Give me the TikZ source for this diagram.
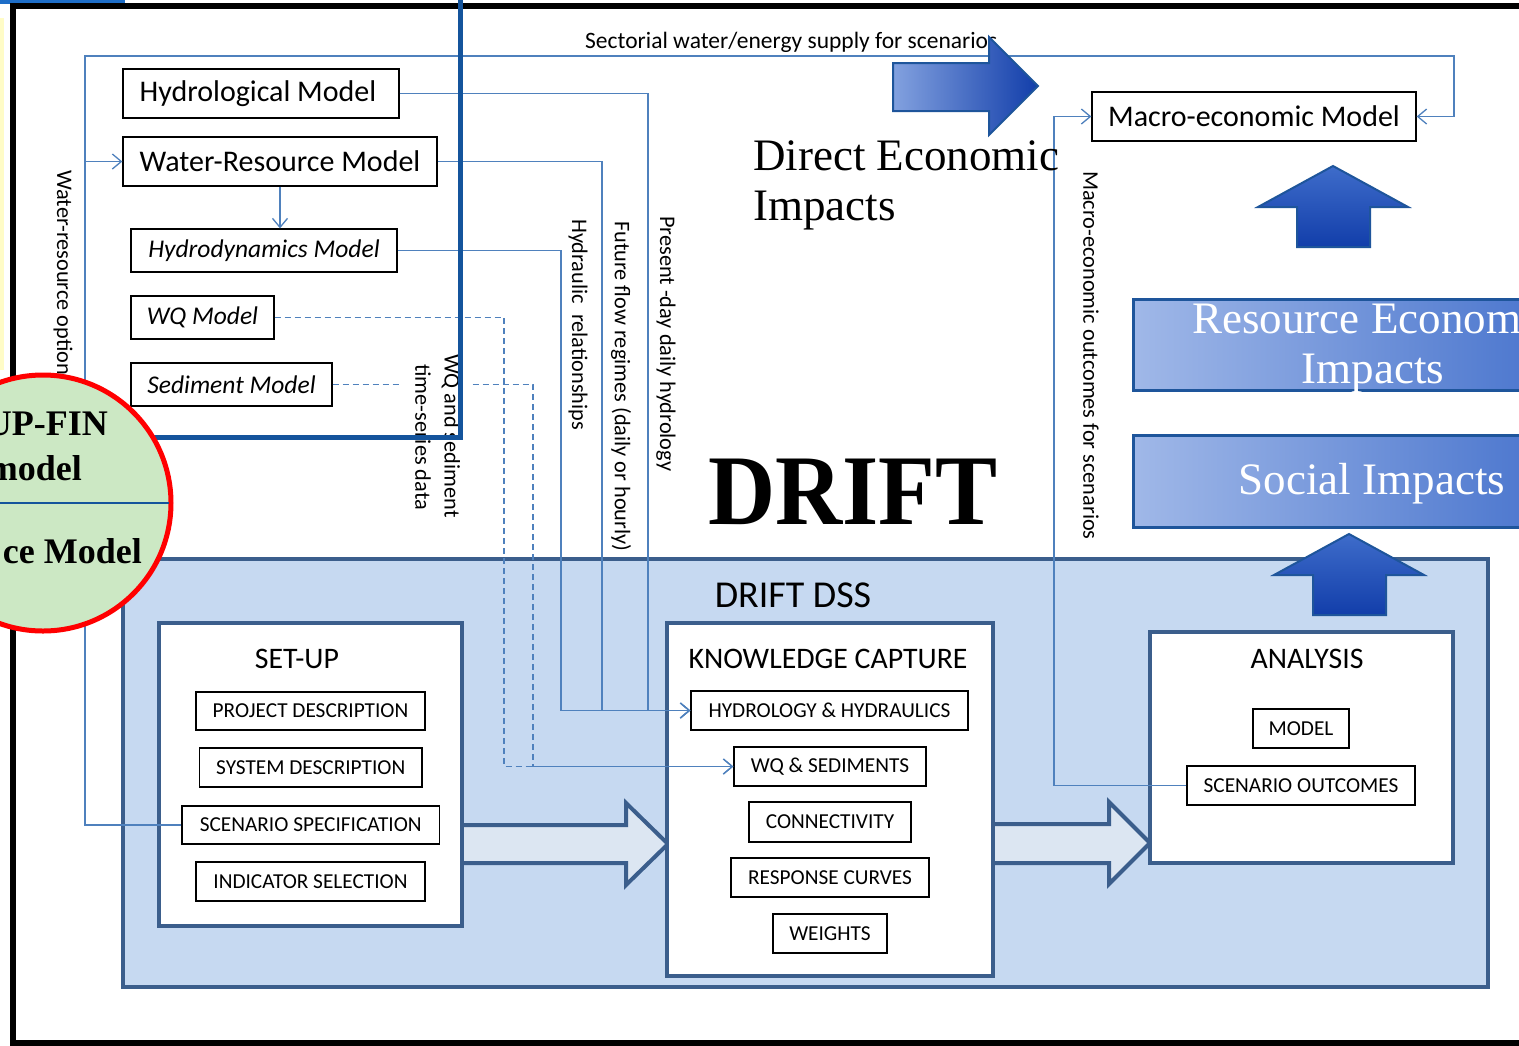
\documentclass[tikz,border=0pt]{standalone}
\usepackage{fontspec}
\setmainfont{Carlito}
\newfontfamily\dserif{Liberation Serif}
\usetikzlibrary{arrows.meta,calc}
\definecolor{lnk}{RGB}{79,129,189}
\definecolor{dssfill}{RGB}{198,217,241}
\definecolor{dssdraw}{RGB}{59,94,140}
\definecolor{blkfill}{RGB}{220,230,242}
\definecolor{frameblue}{RGB}{20,84,156}
\definecolor{circfill}{RGB}{204,232,196}
\definecolor{gradA}{RGB}{160,184,232}
\definecolor{gradB}{RGB}{18,62,170}
\definecolor{gradC}{RGB}{62,108,202}
\definecolor{arrdraw}{RGB}{30,85,155}
\definecolor{topbar}{RGB}{30,110,200}
\tikzset{
  mbox/.style={draw=black, line width=1.3pt, fill=white, inner sep=0pt, font=\fontsize{30}{34}\selectfont},
  ibox/.style={mbox, font=\fontsize{25.5}{29}\selectfont\itshape},
  sbox/.style={draw=black, line width=1.3pt, fill=white, inner sep=0pt, font=\fontsize{21.3}{25}\selectfont},
  cont/.style={draw=dssdraw, line width=4pt, fill=white, inner sep=0pt},
  ttl/.style={inner sep=0pt, font=\fontsize{29.8}{34}\selectfont},
  link/.style={draw=lnk, line width=1.3pt},
  lnkarrow/.style={-{Straight Barb[length=9pt,width=15pt]}},
  dlink/.style={link, dash pattern=on 6pt off 4pt},
  vlab/.style={rotate=-90, anchor=west, inner sep=0pt, font=\fontsize{22.3}{26}\selectfont},
  blockarrow/.style={fill=blkfill, draw=dssdraw, line width=4pt, line join=miter},
  garrow/.style={draw=arrdraw, line width=2pt, line join=miter},
  impact/.style={draw=arrdraw, line width=3pt, inner sep=0pt, left color=gradA, middle color=gradB, right color=gradC},
  whitetxt/.style={text=white, inner sep=0pt, font=\dserif\fontsize{45}{50}\selectfont, anchor=base},
  circtxt/.style={inner sep=0pt, anchor=base east, font=\dserif\bfseries\fontsize{36}{40}\selectfont}
}
\begin{document}
\begin{tikzpicture}[x=1pt,y=-1pt]
\useasboundingbox (0,0) rectangle (1519,1045);
\clip (0,0) rectangle (1519,1045);
\fill[white] (0,0) rectangle (1519,1045);
% page decorations
\fill[yellow!22] (0,18) rectangle (4,370);
\fill[topbar] (0,0) rectangle (125,3.5);
\draw[topbar, line width=2.5pt] (57,0) .. controls (60,8) and (73,8) .. (76,0);
\draw[black, line width=6pt] (1530,6) -- (13,6) -- (13,1042.5) -- (1530,1042.5);

% DSS container
\node[draw=dssdraw, fill=dssfill, line width=4pt, minimum width=1365, minimum height=428, inner sep=0pt] (dss) at (805.5,773) {};
\node[inner sep=0pt, font=\fontsize{38}{42}\selectfont] (dsslab) at (793,595) {DRIFT DSS};

% block arrows
\filldraw[blockarrow] (462,825) -- (626,825) -- (626,803) -- (668,844) -- (626,885) -- (626,863) -- (462,863);
\filldraw[blockarrow] (993,824) -- (1109,824) -- (1109,802) -- (1150,843) -- (1109,884) -- (1109,863) -- (993,863);

% containers
\node[cont, minimum width=303, minimum height=303] (setup) at (310.5,774.5) {};
\node[cont, minimum width=326, minimum height=353] (kc) at (830,799.5) {};
\node[cont, minimum width=303, minimum height=231] (ana) at (1301.5,747.5) {};
\node[ttl] (setupt) at (297,659) {SET-UP};
\node[ttl] (kct) at (828,659) {KNOWLEDGE CAPTURE};
\node[ttl] (anat) at (1307,659) {ANALYSIS};

% set-up items
\node[sbox, minimum width=229, minimum height=38] (proj) at (310.5,711) {PROJECT DESCRIPTION};
\node[sbox, minimum width=222.5, minimum height=39] (sys) at (310.75,767.5) {SYSTEM DESCRIPTION};
\node[sbox, minimum width=257.5, minimum height=38] (scen) at (310.75,825) {SCENARIO SPECIFICATION};
\node[sbox, minimum width=229, minimum height=39] (ind) at (310.5,881.5) {INDICATOR SELECTION};
% knowledge capture items
\node[sbox, minimum width=277, minimum height=39] (hh) at (829.5,710.5) {HYDROLOGY \& HYDRAULICS};
\node[sbox, minimum width=192, minimum height=39] (wqs) at (830,766.5) {WQ \& SEDIMENTS};
\node[sbox, minimum width=162, minimum height=40] (conn) at (830,822) {CONNECTIVITY};
\node[sbox, minimum width=198, minimum height=39] (resp) at (830,877.5) {RESPONSE CURVES};
\node[sbox, minimum width=114, minimum height=39] (wts) at (830,933.5) {WEIGHTS};
% analysis items
\node[sbox, minimum width=96, minimum height=39] (mdl) at (1301,728.5) {MODEL};
\node[sbox, minimum width=228, minimum height=39] (scout) at (1301,785.5) {SCENARIO OUTCOMES};

% models
\node[mbox, minimum width=276, minimum height=49] (hyd) at (261,93.5) {\raisebox{-2pt}{Hydrological Model}\hspace*{6pt}};
\node[mbox, minimum width=314, minimum height=49] (wrm) at (280,161.5) {Water-Resource Model};
\node[ibox, minimum width=266, minimum height=43] (hdm) at (264,250.5) {Hydrodynamics Model};
\node[ibox, minimum width=143, minimum height=43] (wq) at (202.5,317.5) {WQ Model};
\node[ibox, minimum width=201, minimum height=43] (sed) at (231.5,384.5) {Sediment Model};
\node[mbox, minimum width=324, minimum height=49] (macro) at (1254,116.5) {Macro-economic Model};

% connectors
\coordinate (tl) at (85,56);
\coordinate (tr) at (1454,56);
\coordinate (xa) at (561,0);
\coordinate (xb) at (602,0);
\coordinate (xc) at (648,0);
\coordinate (xd) at (504,0);
\coordinate (xe) at (533,0);
\coordinate (xm) at (1054,0);
\draw[link, lnkarrow] (scen.west) -| (tl) -- (tr) |- (macro.east);
\draw[link, lnkarrow] (tl |- wrm.west) -- (wrm.west);
\draw[link, lnkarrow] (wrm.south) -- (wrm.south |- hdm.north);
\draw[link, lnkarrow] (hyd.east) -| (xc |- hh.west) -- (hh.west);
\draw[link, lnkarrow] (wrm.east) -| (xb |- hh.west) -- (hh.west);
\draw[link, lnkarrow] (hdm.east) -| (xa |- hh.west) -- (hh.west);
\draw[dlink, lnkarrow] (wq.east) -| (xd |- wqs.west) -- (wqs.west);
\draw[dlink, lnkarrow] (sed.east) -| (xe |- wqs.west) -- (wqs.west);
\draw[link, lnkarrow] (scout.west) -| (xm |- macro.west) -- (macro.west);

% labels
\fill[white] (401,340) rectangle (472,540);
\node[vlab] (lwq1) at (451,354) {WQ and sediment};
\node[vlab] (lwq2) at (423,364) {time-series data};
\node[vlab] (lhr) at (578,219) {Hydraulic\ \ relationships};
\node[vlab] (lff) at (621,221) {Future flow regimes (daily or hourly)};
\node[vlab] (lpd) at (666,216) {Present -day daily hydrology};
\node[vlab] (lmo) at (1091,171) {Macro-economic outcomes for scenarios};
\node[vlab] (lwr) at (63,170) {Water-resource options};
\node[inner sep=0pt, anchor=base west, font=\fontsize{23.5}{27}\selectfont] (lsect) at (585,48) {Sectorial water/energy supply for scenarios};

% thick frame
\draw[frameblue, line width=5pt] (460.5,-5) -- (460.5,437.5) -- (100,437.5);

% circle
\draw[red, line width=5pt, fill=circfill] (43,503) circle (128pt);
\draw[frameblue, line width=1.5pt] (0,503) -- (169,503);
\node[circtxt] (c1) at (108,435) {UP-FIN};
\node[circtxt] (c2) at (82,480) {model};
\node[circtxt] (c3) at (142,563) {ce Model};

% gradient arrows
\draw[garrow, left color=gradA!70!gradC, right color=gradB] (893,63) -- (989,63) -- (989,37) -- (1038,86) -- (989,135) -- (989,111) -- (893,111) -- cycle;
\draw[garrow, top color=gradC, bottom color=gradB] (1297,247) -- (1297,207) -- (1258,207) -- (1333,166) -- (1408,207) -- (1370,207) -- (1370,247) -- cycle;
\draw[garrow, top color=gradC, bottom color=gradB] (1313,615) -- (1313,575) -- (1274,575) -- (1349,534) -- (1424,575) -- (1386,575) -- (1386,615) -- cycle;

% impact boxes
\node[impact, minimum width=470, minimum height=91] (res) at (1368,344.5) {};
\node[impact, minimum width=470, minimum height=92] (soc) at (1368,481) {};
\node[whitetxt] (rest1) at (1373,333) {Resource Economic};
\node[whitetxt] (rest2) at (1373,383) {Impacts};
\node[whitetxt] (soct) at (1372,494) {Social Impacts};

% direct economic impacts
\node[inner sep=0pt, anchor=base west, font=\dserif\fontsize{45}{50}\selectfont] (dei1) at (753,170) {Direct Economic};
\node[inner sep=0pt, anchor=base west, font=\dserif\fontsize{45}{50}\selectfont] (dei2) at (753,220) {Impacts};
\node[inner sep=0pt, anchor=base, xscale=0.93, font=\dserif\bfseries\fontsize{100}{100}\selectfont] (drift) at (853,524) {DRIFT};
\end{tikzpicture}
\end{document}
